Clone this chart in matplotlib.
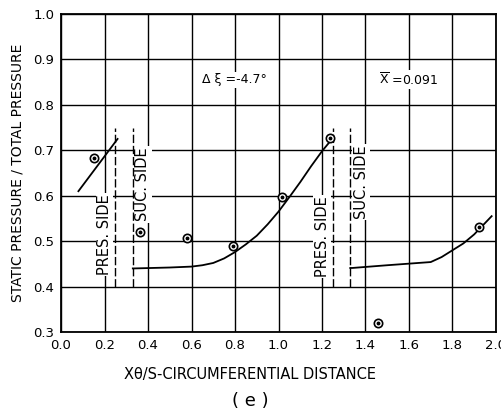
import matplotlib
matplotlib.use("Agg")
import matplotlib.pyplot as plt

pres_x = [0.08, 0.26]
pres_y = [0.61, 0.725]

suc1_x = [0.33, 0.34, 0.5, 0.6, 0.65, 0.7, 0.75, 0.8, 0.85, 0.9, 0.95, 1.0, 1.05, 1.1, 1.15, 1.2, 1.25]
suc1_y = [0.44, 0.44, 0.442, 0.444, 0.447, 0.452, 0.462, 0.476, 0.493, 0.512, 0.537, 0.565, 0.597, 0.63, 0.665, 0.698, 0.727]

suc2_x = [1.33, 1.34, 1.5, 1.7, 1.75, 1.8, 1.85, 1.9, 1.95, 1.98]
suc2_y = [0.441, 0.441, 0.447, 0.454, 0.465, 0.48, 0.495, 0.515, 0.54, 0.555]

# measured points
pt_x = [0.15, 0.363, 0.58, 0.79, 1.016, 1.237, 1.458, 1.92]
pt_y = [0.683, 0.52, 0.507, 0.489, 0.597, 0.727, 0.32, 0.531]

# blade side positions
pres_side = [0.25, 1.25]
suc_side = [0.33, 1.33]

xticks = [0.0, 0.2, 0.4, 0.6, 0.8, 1.0, 1.2, 1.4, 1.6, 1.8, 2.0]
yticks = [0.3, 0.4, 0.5, 0.6, 0.7, 0.8, 0.9, 1.0]

fig = plt.figure(figsize=(5.01, 4.18), dpi=100)
ax = fig.add_axes([0.1218, 0.2057, 0.8682, 0.7608])

for xv in xticks:
    ax.axvline(xv, color='black', lw=1.0, zorder=1)
for yv in yticks:
    ax.axhline(yv, color='black', lw=1.0, zorder=1)

for xv in pres_side + suc_side:
    ax.plot([xv, xv], [0.4, 0.75], color='black', lw=1.0, ls=(0, (6, 2)), zorder=3)

ax.plot(pres_x, pres_y, color='black', lw=1.3, zorder=4)
ax.plot(suc1_x, suc1_y, color='black', lw=1.3, zorder=4)
ax.plot(suc2_x, suc2_y, color='black', lw=1.3, zorder=4)

ax.plot(pt_x, pt_y, ls='none', marker='o', ms=6, mfc='white', mec='black', mew=1.2, zorder=5)
ax.plot(pt_x, pt_y, ls='none', marker='o', ms=1.8, color='black', zorder=6)

bbox = dict(facecolor='white', edgecolor='none', pad=1.0)
side_fs = 10.5
ax.text(0.2, 0.515, 'PRES. SIDE', rotation=90, ha='center', va='center', fontsize=side_fs, bbox=bbox, zorder=2)
ax.text(1.2, 0.51, 'PRES. SIDE', rotation=90, ha='center', va='center', fontsize=side_fs, bbox=bbox, zorder=2)
ax.text(0.375, 0.625, 'SUC. SIDE', rotation=90, ha='center', va='center', fontsize=side_fs, bbox=bbox, zorder=2)
ax.text(1.38, 0.63, 'SUC. SIDE', rotation=90, ha='center', va='center', fontsize=side_fs, bbox=bbox, zorder=2)

ax.text(0.65, 0.855, 'Δ ξ =-4.7°', ha='left', va='center', fontsize=9, bbox=bbox, zorder=2)
ax.text(1.46, 0.855, r'$\overline{\mathrm{X}}$ =0.091', ha='left', va='center', fontsize=9, bbox=bbox, zorder=2)

ax.set_xlim(0.0, 2.0)
ax.set_ylim(0.3, 1.0)
ax.set_xticks(xticks)
ax.set_xticklabels(['%.1f' % v for v in xticks])
ax.set_yticks(yticks)
ax.set_yticklabels(['%.1f' % v for v in yticks])
ax.tick_params(length=0, labelsize=9.5, pad=5)
for s in ax.spines.values():
    s.set_linewidth(1.3)

ax.set_ylabel('STATIC PRESSURE / TOTAL PRESSURE', fontsize=10, labelpad=6)
fig.text(0.5, 0.105, 'Xθ/S-CIRCUMFERENTIAL DISTANCE', ha='center', va='center', fontsize=10.5)
fig.text(0.5, 0.04, '( e )', ha='center', va='center', fontsize=13)

fig.savefig('out.png', dpi=100)
